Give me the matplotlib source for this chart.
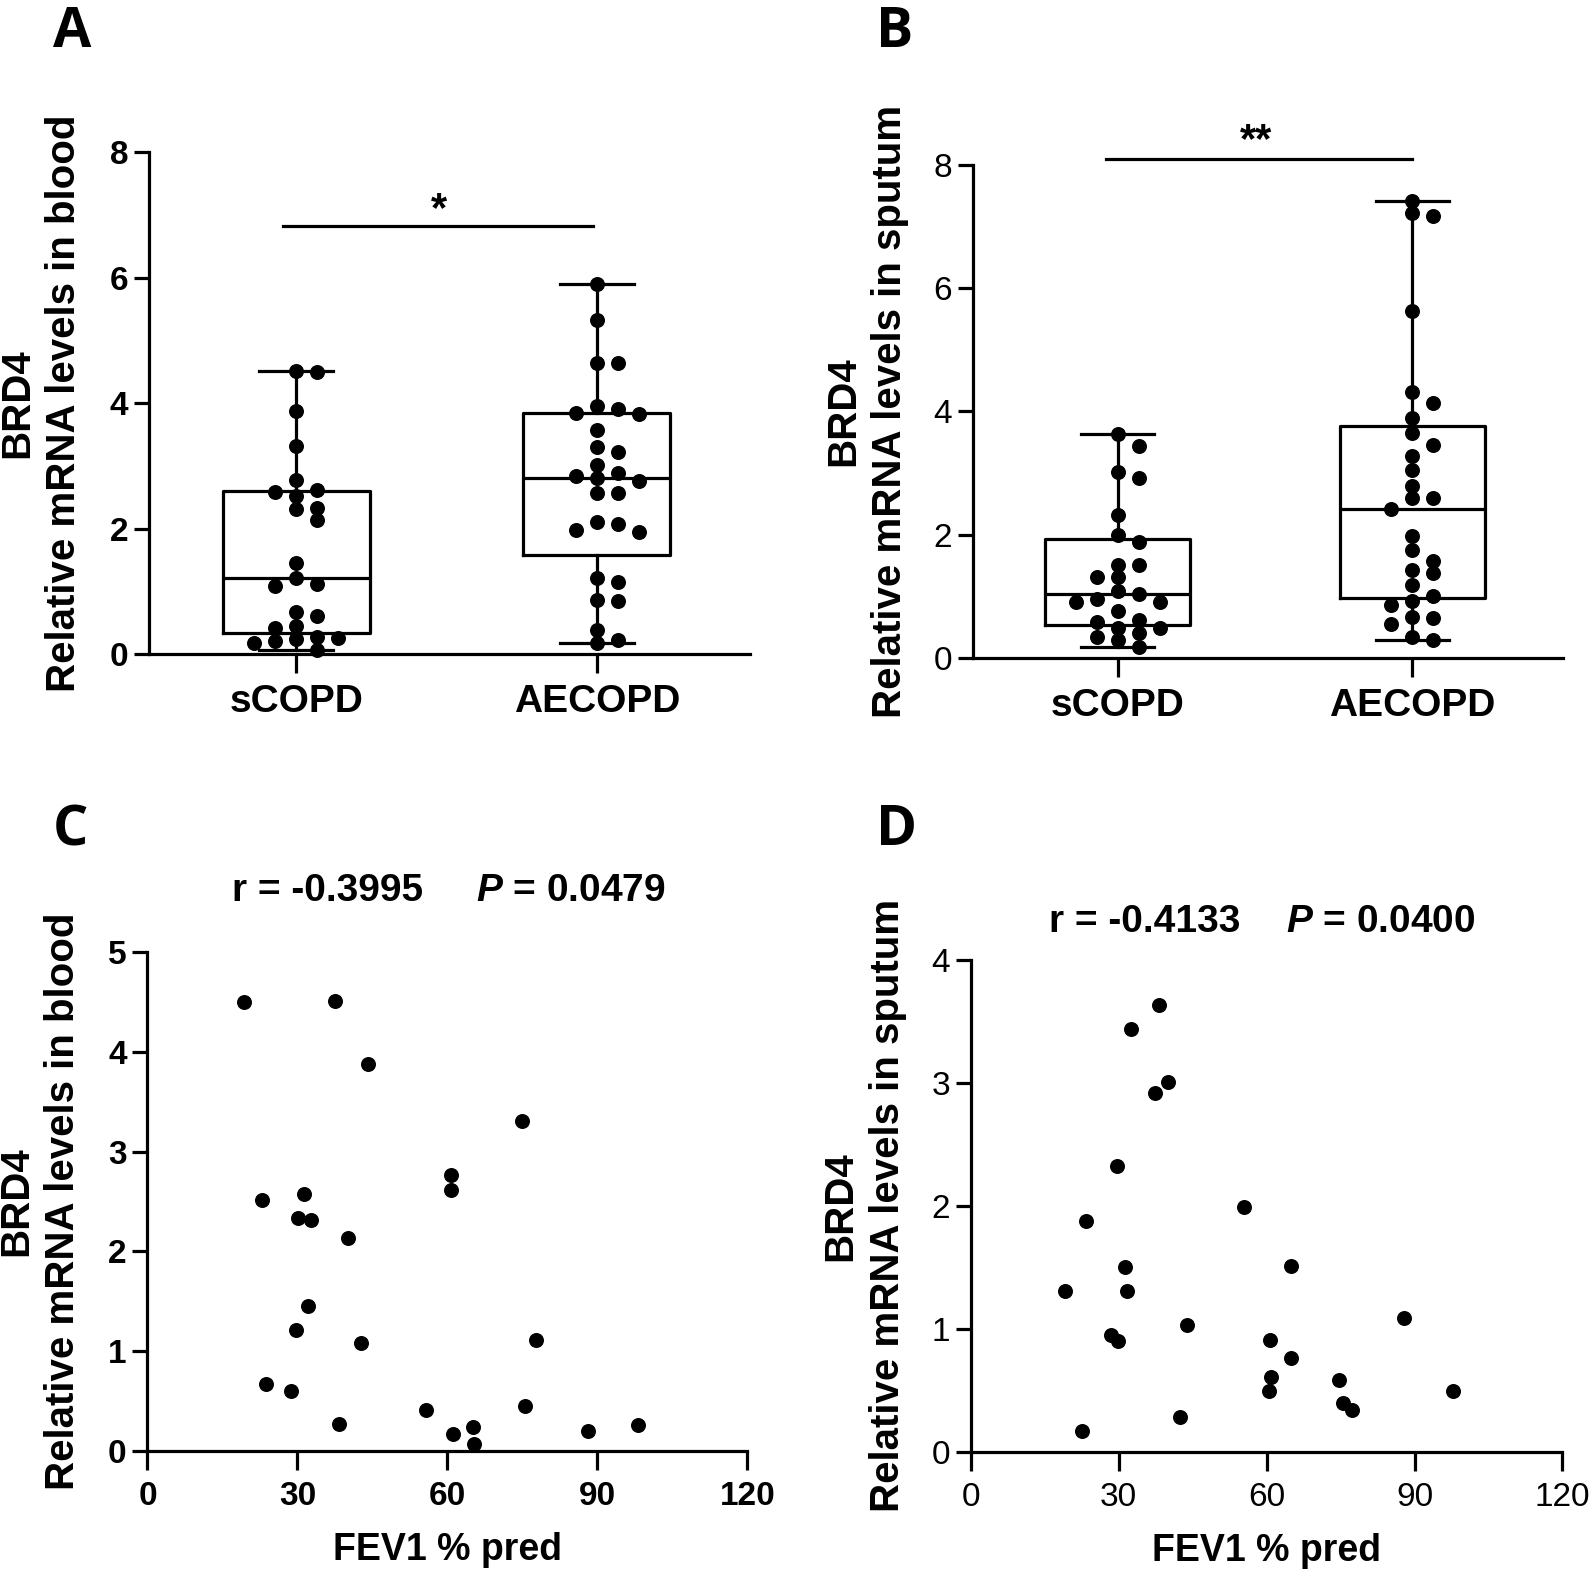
import numpy as np
import matplotlib.pyplot as plt

plt.rcParams['font.family'] = ['Liberation Sans', 'DejaVu Sans']
plt.rcParams['font.weight'] = 'bold'
plt.rcParams['axes.labelweight'] = 'bold'
plt.rcParams['mathtext.fontset'] = 'custom'
plt.rcParams['mathtext.it'] = 'Liberation Sans:bold:italic'
plt.rcParams['mathtext.rm'] = 'Liberation Sans:bold'

groups = ['sCOPD', 'AECOPD']

# sCOPD patients: FEV1 % pred vs BRD4 in blood (panels A and C)
fev1_blood = [19.4, 37.5, 44.2, 75.0, 60.7, 60.8, 23.0, 31.4, 30.1, 32.7, 40.2, 32.1, 29.8,
              42.8, 77.8, 23.8, 28.7, 38.4, 55.7, 75.6, 61.1, 65.1, 65.3, 88.1, 98.2]
blood_scopd = [4.50, 4.51, 3.88, 3.31, 2.77, 2.62, 2.52, 2.58, 2.33, 2.31, 2.13, 1.45, 1.21,
               1.08, 1.11, 0.67, 0.60, 0.27, 0.41, 0.45, 0.17, 0.24, 0.07, 0.20, 0.26]
blood_aecopd = [5.90, 5.33, 4.64, 4.64, 3.96, 3.90, 3.85, 3.83, 3.57, 3.30, 3.22, 3.02, 2.88,
                2.84, 2.76, 2.81, 2.56, 2.57, 2.07, 1.98, 2.11, 1.94, 1.15, 1.21, 0.86, 0.85,
                0.38, 0.22, 0.17]

# sCOPD patients: FEV1 % pred vs BRD4 in sputum (panels B and D)
fev1_sputum = [38.1, 32.4, 40.0, 37.3, 29.6, 23.3, 55.4, 31.3, 64.9, 19.1, 31.6, 87.8, 43.9,
               28.4, 29.9, 60.6, 65.0, 60.8, 60.4, 74.6, 97.9, 75.4, 77.4, 42.4, 22.6]
sputum_scopd = [3.63, 3.44, 3.01, 2.92, 2.32, 1.88, 1.99, 1.50, 1.51, 1.31, 1.31, 1.09, 1.03,
                0.95, 0.90, 0.91, 0.76, 0.61, 0.49, 0.58, 0.49, 0.40, 0.34, 0.28, 0.17]
sputum_aecopd = [7.42, 7.17, 7.22, 5.62, 4.32, 4.14, 3.89, 3.64, 3.45, 3.28, 3.05, 2.79, 2.59,
                 2.59, 2.41, 1.97, 1.75, 1.57, 1.43, 1.37, 1.18, 1.01, 0.92, 0.85, 0.65, 0.66,
                 0.54, 0.34, 0.28]

corr_blood = ('-0.3995', '0.0479')
corr_sputum = ('-0.4133', '0.0400')

LW = 2.3
MS = 10.8

fig = plt.figure(figsize=(15.94, 15.88), dpi=100)


def style_axes(ax, normal_ticks=False):
    for s in ['top', 'right']:
        ax.spines[s].set_visible(False)
    for s in ['left', 'bottom']:
        ax.spines[s].set_linewidth(LW)
    ax.tick_params(axis='both', direction='out', width=LW, length=11, labelsize=24, pad=4)
    ax.tick_params(axis='x', length=14, pad=8)
    if normal_ticks:
        for lbl in ax.get_yticklabels():
            lbl.set_fontweight('normal')


def swarm_x(ax, values, center, diam_px, step_px):
    # simple row-style beeswarm: points that overlap vertically are put side by side
    pts = ax.transData.transform(np.column_stack([np.full(len(values), center), values]))
    order = np.argsort(values)[::-1]
    cands = [0]
    for j in range(1, 30):
        cands += [j, -j]
    placed = []
    offs = np.zeros(len(values))
    for i in order:
        y = pts[i, 1]
        for c in cands:
            x = c * step_px
            if all(abs(y - py) >= 0.8 * diam_px or abs(x - px) >= 0.99 * step_px
                   for px, py in placed):
                break
        placed.append((x, y))
        offs[i] = x
    x0 = ax.transData.transform((center, 0))[0]
    back = ax.transData.inverted().transform(np.column_stack([x0 + offs, np.zeros(len(offs))]))
    return back[:, 0]


def box_stats(vals):
    v = np.asarray(vals)
    q1, med, q3 = np.percentile(v, [25, 50, 75], method='weibull')
    return dict(med=med, q1=q1, q3=q3, whislo=v.min(), whishi=v.max(), fliers=[])


def plot_box(ax, data, ylab, ylim, yticks, normal_ticks=False):
    ax.set_xlim(-0.49, 1.51)
    ax.set_ylim(*ylim)
    ax.set_yticks(yticks)
    lp = dict(color='black', linewidth=LW)
    ax.bxp([box_stats(d) for d in data], positions=[0, 1], widths=0.49, capwidths=0.245,
           showfliers=False, boxprops=lp, medianprops=lp, whiskerprops=lp, capprops=lp,
           manage_ticks=False)
    for i, d in enumerate(data):
        xs = swarm_x(ax, d, i, 15, 21)
        ax.scatter(xs, d, s=MS ** 2, color='black', zorder=3, clip_on=False, linewidths=0)
    style_axes(ax, normal_ticks)
    ax.set_xticks([0, 1], groups, fontsize=28, fontweight='bold')
    ax.set_ylabel(ylab, fontsize=29, fontweight='bold', va='center', ha='center',
                  multialignment='center', linespacing=1.3)
    ax.yaxis.set_label_coords(-0.18, 0.5)


def plot_corr(ax, x, y, ylab, ylim, yticks, corr, txt_pos, normal_ticks=False):
    ax.scatter(x, y, s=MS ** 2, color='black', linewidths=0, clip_on=False, zorder=3)
    ax.set_xlim(0, 120)
    ax.set_xticks([0, 30, 60, 90, 120])
    ax.set_ylim(*ylim)
    ax.set_yticks(yticks)
    style_axes(ax, normal_ticks)
    if normal_ticks:
        for lbl in ax.get_xticklabels():
            lbl.set_fontweight('normal')
    ax.set_xlabel('FEV1 % pred', fontsize=27, fontweight='bold', labelpad=14)
    ax.set_ylabel(ylab, fontsize=29, fontweight='bold', va='center', ha='center',
                  multialignment='center', linespacing=1.3)
    ax.yaxis.set_label_coords(-0.18, 0.5)
    (rx, px, ty) = txt_pos
    ax.text(rx, ty, 'r = ' + corr[0], transform=ax.transAxes, fontsize=28, va='center')
    ax.text(px, ty, r'$\it{P}$ = ' + corr[1], transform=ax.transAxes, fontsize=28, va='center')


# A
axA = fig.add_axes([0.0935, 0.5882, 0.3770, 0.3158])
plot_box(axA, [blood_scopd, blood_aecopd], 'BRD4\nRelative mRNA levels in blood',
         (0, 8), [0, 2, 4, 6, 8])
axA.plot([-0.045, 0.986], [6.83, 6.83], color='black', lw=LW, clip_on=False)
axA.text(0.475, 6.9, '*', fontsize=30, ha='center', va='baseline')

# B
axB = fig.add_axes([0.6104, 0.5858, 0.3701, 0.3104])
plot_box(axB, [sputum_scopd, sputum_aecopd], 'BRD4\nRelative mRNA levels in sputum',
         (0, 8), [0, 2, 4, 6, 8], normal_ticks=True)
axB.plot([-0.04, 1.0], [8.10, 8.10], color='black', lw=LW, clip_on=False)
axB.text(0.47, 8.2, '**', fontsize=30, ha='center', va='baseline')

# C
axC = fig.add_axes([0.0925, 0.0865, 0.3763, 0.3137])
plot_corr(axC, fev1_blood, blood_scopd, 'BRD4\nRelative mRNA levels in blood',
          (0, 5), [0, 1, 2, 3, 4, 5], corr_blood, (0.141, 0.548, 1.124))

# D
axD = fig.add_axes([0.609, 0.0858, 0.3712, 0.3098])
plot_corr(axD, fev1_sputum, sputum_scopd, 'BRD4\nRelative mRNA levels in sputum',
          (0, 4), [0, 1, 2, 3, 4], corr_sputum, (0.132, 0.533, 1.077), normal_ticks=True)

for letter, x, y in [('A', 53, 5), ('B', 876, 5), ('C', 53, 803), ('D', 876, 803)]:
    fig.text(x / 1594, 1 - y / 1588, letter, fontsize=40, fontweight='bold',
             family=['Open Sans', 'DejaVu Sans'], ha='left', va='top')

fig.savefig('out.png', dpi=100)
